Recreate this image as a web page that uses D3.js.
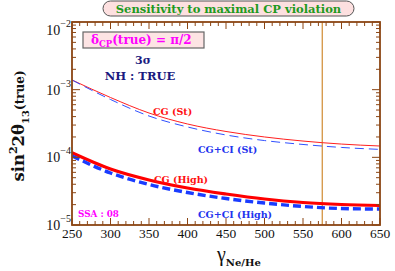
<!DOCTYPE html>
<html><head><meta charset="utf-8">
<script src="https://cdn.jsdelivr.net/npm/d3@7"></script>
<style>body{margin:0;background:#fff}svg{display:block}</style>
</head><body>
<svg id="c" width="395" height="271"></svg>
<script>
const gammaValues = [250, 300, 350, 400, 450, 500, 550, 600, 650];
const cgSt     = [1.39e-3, 7.66e-4, 4.52e-4, 3.11e-4, 2.41e-4, 2.00e-4, 1.74e-4, 1.57e-4, 1.47e-4];
const cgciSt   = [1.39e-3, 7.16e-4, 4.08e-4, 2.81e-4, 2.14e-4, 1.77e-4, 1.55e-4, 1.40e-4, 1.31e-4];
const cgHigh   = [1.17e-4, 6.72e-5, 4.63e-5, 3.52e-5, 2.87e-5, 2.42e-5, 2.15e-5, 2.01e-5, 1.94e-5];
const cgciHigh = [1.05e-4, 5.87e-5, 3.97e-5, 3.02e-5, 2.46e-5, 2.11e-5, 1.88e-5, 1.75e-5, 1.72e-5];
const xTicks = [250, 300, 350, 400, 450, 500, 550, 600, 650];
const yTickExps = [-2, -3, -4, -5];
const markerGamma = 575;
const titleText = "Sensitivity to maximal CP violation";

const svg = d3.select("#c");
const L = 72, R = 380, T = 22, B = 225;
const x = d3.scaleLinear().domain([250, 650]).range([L, R]);
const y = d3.scaleLog().domain([1e-5, 1e-2]).range([B, T]);
const brown = "#8b4513";
const serif = "'DejaVu Serif', serif";
const tserif = "'Liberation Serif', serif";

svg.append("clipPath").attr("id","clip").append("rect").attr("x",L).attr("y",T).attr("width",R-L).attr("height",B-T);
const g = svg.append("g").attr("clip-path","url(#clip)");

g.append("line").attr("x1",x(markerGamma)).attr("x2",x(markerGamma)).attr("y1",T).attr("y2",B)
  .attr("stroke","#d08a30").attr("stroke-width",1.2);

const line = d3.line().x((d,i)=>x(gammaValues[i])).y(d=>y(d)).curve(d3.curveMonotoneX);
const series = [
  {v: cgSt, c:"#ff2020", w:1, dash:null},
  {v: cgciSt, c:"#3050ff", w:1, dash:"9,5"},
  {v: cgHigh, c:"#ff0000", w:3.2, dash:null},
  {v: cgciHigh, c:"#1a3cff", w:3.4, dash:"8,4"}
];
series.forEach(s=>{
  g.append("path").attr("d", line(s.v)).attr("fill","none").attr("stroke",s.c)
   .attr("stroke-width",s.w).attr("stroke-dasharray",s.dash);
});

const axG = svg.append("g").attr("stroke",brown).attr("stroke-width",1);
const xMinor = d3.range(250, 651, 10);
xMinor.forEach(v=>{
  const major = v % 50 === 0;
  const len = major ? 7 : 4;
  axG.append("line").attr("x1",x(v)).attr("x2",x(v)).attr("y1",B).attr("y2",B-len);
  axG.append("line").attr("x1",x(v)).attr("x2",x(v)).attr("y1",T).attr("y2",T+len);
});
for (let e=-5; e<=-2; e++) {
  for (let m=1; m<=9; m++) {
    const v = m*Math.pow(10,e);
    if (v > 1e-2*1.0001) break;
    const len = m===1 ? 8 : 4;
    axG.append("line").attr("x1",L).attr("x2",L+len).attr("y1",y(v)).attr("y2",y(v));
    axG.append("line").attr("x1",R).attr("x2",R-len).attr("y1",y(v)).attr("y2",y(v));
  }
}
svg.append("rect").attr("x",L).attr("y",T).attr("width",R-L).attr("height",B-T)
  .attr("fill","none").attr("stroke",brown).attr("stroke-width",1.8);

svg.append("g").selectAll("text").data(xTicks).join("text")
  .attr("x",d=>x(d)).attr("y",B+13).attr("text-anchor","middle")
  .attr("font-family",tserif).attr("font-size",13.5).attr("fill","#111").text(d=>d);

yTickExps.forEach(e=>{
  const yy = y(Math.pow(10,e)) + (e===-2 ? 13 : 5);
  const t = svg.append("text").attr("x",L-1).attr("y",yy).attr("text-anchor","end")
    .attr("font-family",tserif).attr("font-size",14).attr("fill","#111");
  t.append("tspan").text("10");
  t.append("tspan").attr("dy",-8).attr("font-size",10).text("\u2212" + Math.abs(e));
});

const yl = svg.append("text").attr("transform","translate(24,126) rotate(-90)").attr("text-anchor","middle")
  .attr("font-family",serif).attr("font-weight","bold").attr("fill","#111").attr("font-size",16.5);
yl.append("tspan").text("sin");
yl.append("tspan").attr("dy",-7).attr("font-size",11).text("2");
yl.append("tspan").attr("dy",7).text("2θ");
yl.append("tspan").attr("dy",5).attr("font-size",10).text("13");
yl.append("tspan").attr("dy",-5).attr("font-size",12).text("(true)");

const xl = svg.append("text").attr("x",217).attr("y",261).attr("font-family",tserif).attr("fill","#111");
xl.append("tspan").attr("font-size",20).text("γ");
xl.append("tspan").attr("dy",5).attr("font-size",10).attr("font-weight","bold").attr("font-family",serif).text("Ne/He");

svg.append("rect").attr("x",103).attr("y",1).attr("width",251).attr("height",15).attr("rx",7.5)
  .attr("fill","#fde0e0").attr("stroke","#555").attr("stroke-width",1);
svg.append("text").attr("x",228.5).attr("y",12.5).attr("text-anchor","middle")
  .attr("font-family",serif).attr("font-weight","bold").attr("font-size",11.5).attr("fill","#1f9a1f").text(titleText);

svg.append("rect").attr("x",83).attr("y",32).attr("width",121).attr("height",16)
  .attr("fill","#fde4e4").attr("stroke","#666").attr("stroke-width",1.2);
const dt = svg.append("text").attr("x",91).attr("y",43.5).attr("font-family",serif).attr("font-weight","bold")
  .attr("font-size",12).attr("fill","#ff00ff");
dt.append("tspan").text("δ");
dt.append("tspan").attr("dy",3).attr("font-size",8.5).text("CP");
dt.append("tspan").attr("dy",-3).text("(true) = π/2");

const lab = (txt, xx, yy, col, fs) => svg.append("text").attr("x",xx).attr("y",yy)
  .attr("font-family",serif).attr("font-weight","bold").attr("font-size",fs).attr("fill",col).text(txt);
svg.append("text").attr("x",143).attr("y",64).attr("text-anchor","middle").attr("font-family",serif)
  .attr("font-weight","bold").attr("font-size",11).attr("fill","#1a1a80").text("3σ");
svg.append("text").attr("x",140).attr("y",79.5).attr("text-anchor","middle").attr("font-family",serif)
  .attr("font-weight","bold").attr("font-size",11.5).attr("fill","#1a1a80").text("NH : TRUE");
lab("CG (St)", 153, 115, "#ff1010", 9.5);
lab("CG+CI (St)", 198, 153, "#2233ee", 9.5);
lab("CG (High)", 154, 183, "#ff1010", 9.5);
lab("CG+CI (High)", 198, 217.5, "#2233ee", 9.5);
lab("SSA : 08", 78, 217, "#ff00ff", 8.8);
</script>
</body></html>
